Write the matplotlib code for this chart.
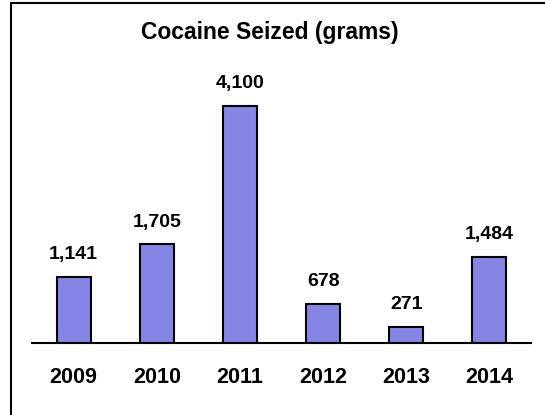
import matplotlib
matplotlib.use('Agg')
import matplotlib.pyplot as plt
from matplotlib.patches import Rectangle

years = ['2009', '2010', '2011', '2012', '2013', '2014']
grams = [1141, 1705, 4100, 678, 271, 1484]
value_labels = ['1,141', '1,705', '4,100', '678', '271', '1,484']

plt.rcParams['font.family'] = ['Liberation Sans', 'DejaVu Sans']

W, H = 545, 415
fig = plt.figure(figsize=(W / 100, H / 100), dpi=100)

# outer frame, cropped on the right and bottom like the reference
fig.patches.append(Rectangle((11 / W, -0.1), 1.2, 1.1 - 3 / H, transform=fig.transFigure,
                             fill=False, edgecolor='black', linewidth=1.5))

# axes placed in pixel coords: baseline at y=343, x from 32 to 531
ax = fig.add_axes([32 / W, (H - 343) / H, 499 / W, (343 - 60) / H])
px_per_unit = (343 - 106) / 4100
ax.set_ylim(0, (343 - 60) / px_per_unit)
ax.set_xlim(-0.5, len(years) - 0.5)

x = range(len(years))
bars = ax.bar(x, grams, width=0.41, color='#8585E6', edgecolor='black', linewidth=1.5, zorder=2)

for rect, lab in zip(bars, value_labels):
    ax.annotate(lab, (rect.get_x() + rect.get_width() / 2, rect.get_height()),
                xytext=(0, 10), textcoords='offset points', ha='center', va='bottom',
                fontsize=14, fontweight='bold')

for s in ['top', 'right', 'left']:
    ax.spines[s].set_visible(False)
ax.spines['bottom'].set_linewidth(1.5)
ax.set_yticks([])
ax.set_xticks(list(x))
ax.set_xticklabels(years, fontsize=15.5, fontweight='bold')
ax.tick_params(axis='x', length=0, pad=17)

fig.text(270 / W, 1 - 32 / H, 'Cocaine Seized (grams)', ha='center', va='center',
         fontsize=16.5, fontweight='bold')

fig.savefig('out.png', dpi=100)
